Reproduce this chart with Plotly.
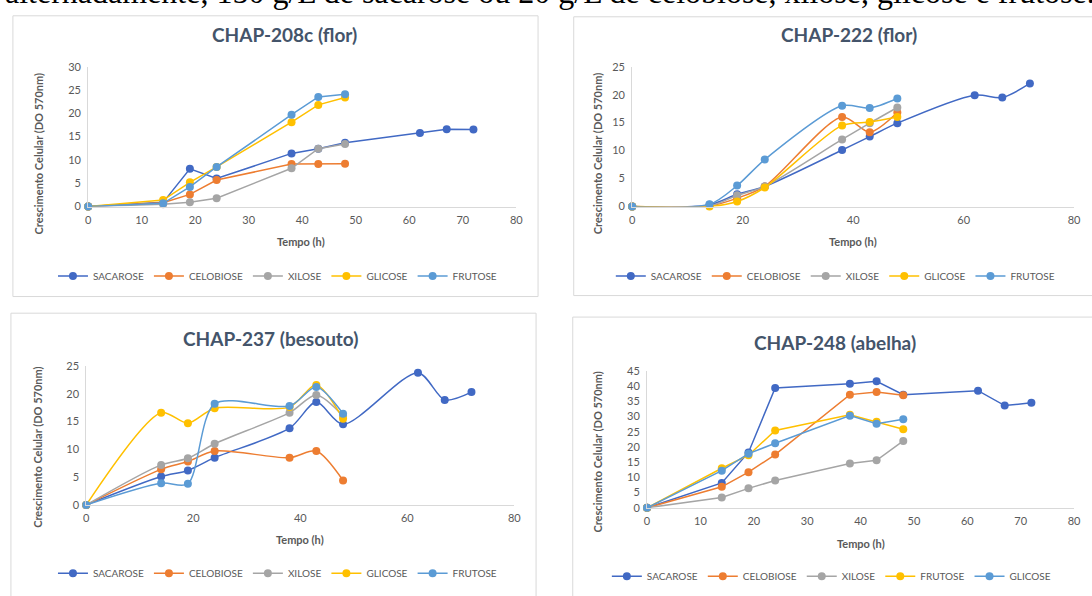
import plotly.graph_objects as go

W, H = 1092, 596

# ---------------- data ----------------
t_sac = [0, 14, 19, 24, 38, 43, 48, 62, 67, 72]
t_oth = [0, 14, 19, 24, 38, 43, 48]

# CHAP-208c (flor)
a_sac = [0, 0.9, 8.1, 6.0, 11.4, 12.4, 13.7, 15.8, 16.6, 16.5]
a_cel = [0, 0.8, 2.6, 5.7, 9.1, 9.1, 9.2]
a_xil = [0, 0.5, 0.9, 1.8, 8.2, 12.4, 13.4]
a_gli = [0, 1.4, 5.2, 8.5, 18.1, 21.8, 23.4]
a_fru = [0, 0.7, 4.2, 8.5, 19.7, 23.5, 24.1]

# CHAP-222 (flor)
b_sac = [0, 0.3, 2.2, 3.6, 10.1, 12.5, 14.9, 19.9, 19.5, 22.0]
b_cel = [0, 0.1, 1.5, 3.6, 16.0, 13.3, 16.8]
b_xil = [0, 0.1, 2.0, 3.6, 12.0, 14.9, 17.7]
b_gli = [0, 0.0, 0.9, 3.4, 14.5, 15.1, 16.0]
b_fru = [0, 0.4, 3.75, 8.4, 18.0, 17.6, 19.3]

# CHAP-237 (besouto)
c_sac = [0, 5.1, 6.2, 8.5, 13.8, 18.5, 14.5, 23.8, 18.9, 20.3]
c_cel = [0, 6.4, 7.8, 9.7, 8.5, 9.7, 4.4]
c_xil = [0, 7.2, 8.4, 11.0, 16.6, 19.8, 16.0]
c_gli = [0, 16.6, 14.7, 17.4, 17.6, 21.6, 15.5]
c_fru = [0, 3.9, 3.8, 18.2, 17.8, 21.2, 16.4]

# CHAP-248 (abelha)
d_sac = [0, 8.2, 18.2, 39.4, 40.8, 41.6, 37.2, 38.5, 33.6, 34.5]
d_cel = [0, 6.9, 11.7, 17.5, 37.2, 38.1, 37.0]
d_xil = [0, 3.4, 6.4, 9.0, 14.6, 15.6, 22.0]
d_fru = [0, 13.0, 17.3, 25.4, 30.6, 28.3, 25.8]
d_gli = [0, 12.2, 17.8, 21.2, 30.3, 27.6, 29.1]

titles = ["CHAP-208c (flor)", "CHAP-222 (flor)", "CHAP-237 (besouto)", "CHAP-248 (abelha)"]
header = "alternadamente, 150 g/L de sacarose ou 20 g/L de celobiose, xilose, glicose e frutose."

C_SAC = "#4169C4"
C_CEL = "#ED7D31"
C_XIL = "#A5A5A5"
C_YEL = "#FFC000"
C_LBL = "#5B9BD5"

FONT = "Lato"
GRAY = "#595959"


def px(x):
    return x / W


def py(y):
    return 1 - y / H


# panel geometry (pixels)
panels = [
    dict(x0=86, x1=518, yt=61, yb=204, ymax=30, dx=10, smooth=False,
         title=(284, 28), ytitle=(36, 150), xtitle=(301, 240), leg=(277, 275),
         box=(10, 9, 540, 296)),
    dict(x0=635, x1=1081, yt=61, yb=204, ymax=25, dx=20, smooth=True,
         title=(854, 28), ytitle=(600, 150), xtitle=(858, 240), leg=(840, 275),
         box=(576, 10, 1100, 295)),
    dict(x0=84, x1=516, yt=367, yb=509, ymax=25, dx=20, smooth=True,
         title=(270, 339), ytitle=(34, 450), xtitle=(300, 544), leg=(277, 579),
         box=(8, 313, 538, 610)),
    dict(x0=650, x1=1081, yt=372, yb=512, ymax=45, dx=10, smooth=False,
         title=(840, 343), ytitle=(600, 455), xtitle=(866, 548), leg=(836, 582),
         box=(575, 317, 1100, 610)),
]

series = [
    [("SACAROSE", t_sac, a_sac, C_SAC), ("CELOBIOSE", t_oth, a_cel, C_CEL),
     ("XILOSE", t_oth, a_xil, C_XIL), ("GLICOSE", t_oth, a_gli, C_YEL),
     ("FRUTOSE", t_oth, a_fru, C_LBL)],
    [("SACAROSE", t_sac, b_sac, C_SAC), ("CELOBIOSE", t_oth, b_cel, C_CEL),
     ("XILOSE", t_oth, b_xil, C_XIL), ("GLICOSE", t_oth, b_gli, C_YEL),
     ("FRUTOSE", t_oth, b_fru, C_LBL)],
    [("SACAROSE", t_sac, c_sac, C_SAC), ("CELOBIOSE", t_oth, c_cel, C_CEL),
     ("XILOSE", t_oth, c_xil, C_XIL), ("GLICOSE", t_oth, c_gli, C_YEL),
     ("FRUTOSE", t_oth, c_fru, C_LBL)],
    [("SACAROSE", t_sac, d_sac, C_SAC), ("CELOBIOSE", t_oth, d_cel, C_CEL),
     ("XILOSE", t_oth, d_xil, C_XIL), ("FRUTOSE", t_oth, d_fru, C_YEL),
     ("GLICOSE", t_oth, d_gli, C_LBL)],
]

fig = go.Figure()
shapes = []
annotations = []
layout_upd = {}

for i, (p, ser) in enumerate(zip(panels, series)):
    n = "" if i == 0 else str(i + 1)
    xa, ya = "x" + n, "y" + n
    leg = "legend" + n
    for name, xs, ys, col in ser:
        fig.add_trace(go.Scatter(
            x=xs, y=ys, name=name, mode="lines+markers",
            line=dict(color=col, width=1.5, shape="spline" if p["smooth"] else "linear",
                      smoothing=0.8),
            marker=dict(color=col, size=8),
            xaxis=xa, yaxis=ya, legend=leg, cliponaxis=False,
        ))
    layout_upd["xaxis" + n] = dict(
        domain=[px(p["x0"]), px(p["x1"])], anchor=ya, range=[0, 80], dtick=p["dx"],
        showgrid=False, zeroline=False, showline=True, linecolor="#D9D9D9", linewidth=1,
        ticks="", tickfont=dict(family=FONT, size=11, color=GRAY), ticklabelstandoff=3,
    )
    layout_upd["yaxis" + n] = dict(
        domain=[py(p["yb"]), py(p["yt"])], anchor=xa, range=[0, p["ymax"]], dtick=5,
        showgrid=False, zeroline=False, showline=True, linecolor="#D9D9D9", linewidth=1,
        ticks="", tickfont=dict(family=FONT, size=11, color=GRAY), ticklabelstandoff=4,
    )
    layout_upd[leg] = dict(
        orientation="h", x=px(p["leg"][0]), y=py(p["leg"][1]), xanchor="center",
        yanchor="middle", font=dict(family=FONT, size=10, color=GRAY),
        itemwidth=30, bgcolor="rgba(0,0,0,0)", tracegroupgap=0,
    )
    bx0, by0, bx1, by1 = p["box"]
    shapes.append(dict(type="rect", xref="paper", yref="paper",
                       x0=px(bx0), x1=px(bx1), y0=py(by1), y1=py(by0),
                       line=dict(color="#D9D9D9", width=1), fillcolor="rgba(0,0,0,0)",
                       layer="below"))
    annotations.append(dict(text="<b>" + titles[i] + "</b>", xref="paper", yref="paper",
                            x=px(p["title"][0]), y=py(p["title"][1]), xanchor="center",
                            yanchor="middle", showarrow=False,
                            font=dict(family=FONT, size=19, color="#44546A")))
    annotations.append(dict(text="<b>Crescimento Celular (DO 570nm)</b>", xref="paper",
                            yref="paper", x=px(p["ytitle"][0]), y=py(p["ytitle"][1]),
                            xanchor="center", yanchor="middle", textangle=-90,
                            showarrow=False, font=dict(family=FONT, size=11, color=GRAY)))
    annotations.append(dict(text="<b>Tempo (h)</b>", xref="paper", yref="paper",
                            x=px(p["xtitle"][0]), y=py(p["xtitle"][1]),
                            xanchor="center", yanchor="middle", showarrow=False,
                            font=dict(family=FONT, size=11, color=GRAY)))

annotations.append(dict(text=header, xref="paper", yref="paper", x=0, y=py(-15),
                        xanchor="left", yanchor="middle", showarrow=False,
                        font=dict(family="Liberation Serif", size=32, color="#000000")))

fig.update_layout(
    width=W, height=H, margin=dict(l=0, r=0, t=0, b=0),
    paper_bgcolor="white", plot_bgcolor="white",
    shapes=shapes, annotations=annotations, **layout_upd,
)

fig.write_html("out.html", config={"displayModeBar": False},
               post_script="document.body.style.margin='0';")
